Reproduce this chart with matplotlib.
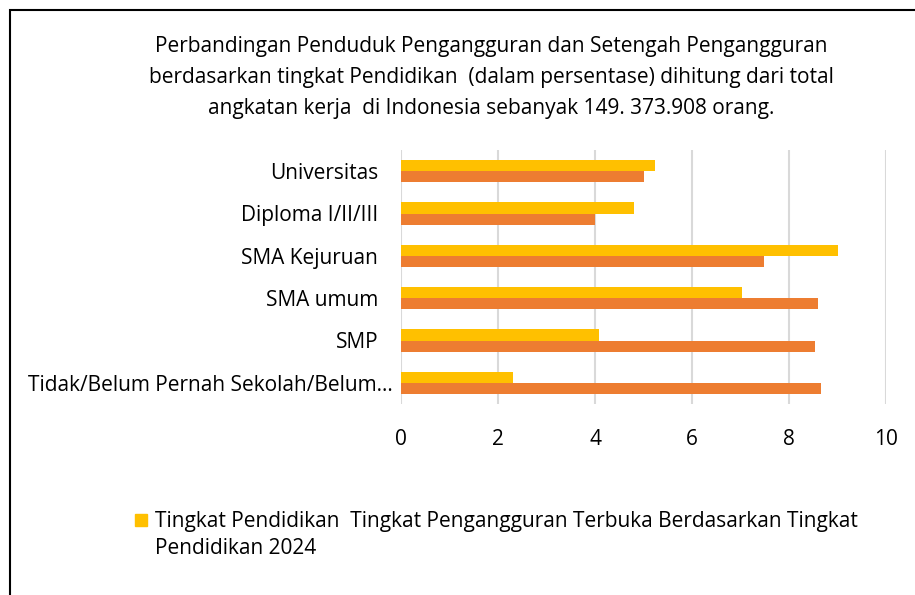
import numpy as np
import matplotlib.pyplot as plt
from matplotlib.patches import Rectangle
from matplotlib.transforms import ScaledTranslation

# Data
categories = ['Universitas', 'Diploma I/II/III', 'SMA Kejuruan', 'SMA umum', 'SMP',
              'Tidak/Belum Pernah Sekolah/Belum…']
tpt_2024 = [5.24, 4.81, 9.00, 7.04, 4.09, 2.30]
setengah = [5.02, 4.00, 7.48, 8.60, 8.54, 8.67]
xticks = [0, 2, 4, 6, 8, 10]

title = ('Perbandingan Penduduk Pengangguran dan Setengah Pengangguran\n'
         'berdasarkan tingkat Pendidikan  (dalam persentase) dihitung dari total\n'
         'angkatan kerja  di Indonesia sebanyak 149. 373.908 orang.')
legend_label = ('Tingkat Pendidikan  Tingkat Pengangguran Terbuka Berdasarkan Tingkat\n'
                'Pendidikan 2024')

plt.rcParams['font.family'] = ['Open Sans', 'DejaVu Sans']

fig = plt.figure(figsize=(9.15, 5.95), dpi=100)
ax = fig.add_axes([401 / 915, 1 - 404 / 595, 485 / 915, 254 / 595])

y = np.arange(len(categories))
h = 0.26
ax.barh(y - h / 2, tpt_2024, height=h, color='#ffc000', zorder=3)
ax.barh(y + h / 2, setengah, height=h, color='#ed7d31', zorder=3)

ax.set_xlim(0, 10)
ax.set_ylim(len(categories) - 0.5, -0.5)
ax.set_xticks(xticks)
ax.set_yticks(y)
ax.set_yticklabels(categories)
ax.tick_params(axis='both', length=0, labelsize=15, colors='black')
ax.tick_params(axis='x', pad=18)
ax.tick_params(axis='y', pad=16.4)
ax.grid(axis='x', color='#d9d9d9', linewidth=1.5, zorder=0)
for s in ax.spines.values():
    s.set_visible(False)

# the truncated long label sits a bit further right in the reference
long_lbl = ax.get_yticklabels()[-1]
long_lbl.set_transform(long_lbl.get_transform() +
                       ScaledTranslation(15 / 100, 0, fig.dpi_scale_trans))

fig.text(491 / 915, 1 - 36 / 595, title, ha='center', va='top', fontsize=15,
         linespacing=1.62)

# legend (only the yellow series is shown in the reference)
fig.patches.append(Rectangle((135 / 915, 1 - 526 / 595), 12 / 915, 12 / 595,
                             transform=fig.transFigure, color='#ffc000'))
fig.text(155 / 915, 1 - 511 / 595, legend_label, ha='left', va='top', fontsize=15,
         linespacing=1.4)

# chart frame
fig.patches.append(Rectangle((10 / 915, -0.1), 1.1, 1 - 10 / 595 + 0.1,
                             transform=fig.transFigure, fill=False,
                             edgecolor='black', linewidth=1.5))

fig.savefig('out.png', dpi=100)
